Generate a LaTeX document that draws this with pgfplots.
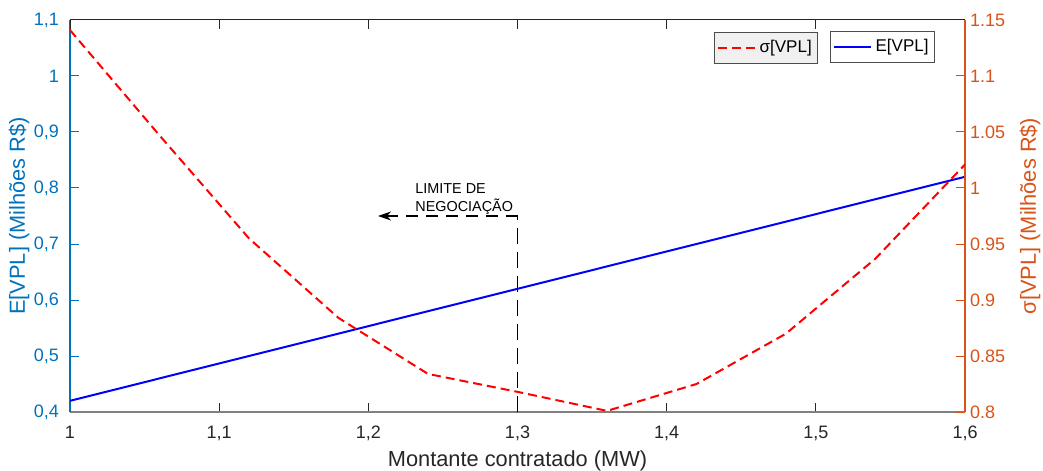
\documentclass[border=0pt]{standalone}
\usepackage{fontspec}
\setmainfont{Liberation Sans}
\usepackage{pgfplots}
\pgfplotsset{compat=1.18}
\usetikzlibrary{arrows.meta}
\definecolor{lblue}{HTML}{0072BD}
\definecolor{rorange}{HTML}{D95319}
\definecolor{axdark}{HTML}{262626}
\definecolor{leggray}{HTML}{F0F0F0}
\begin{document}
\begin{tikzpicture}
\pgfplotsset{
  common/.style={
    scale only axis, width=447.5pt, height=196pt,
    xmin=1, xmax=1.6,
    xtick={1,1.1,1.2,1.3,1.4,1.5,1.6},
    tick align=inside, major tick length=4.5pt,
    /pgf/number format/assume math mode=true,
    tick label style={font=\fontsize{9}{10}\selectfont},
    label style={font=\fontsize{10.9}{12}\selectfont},
    legend style={font=\fontsize{8.5}{10}\selectfont, draw=black!70, line width=0.5pt,
      inner xsep=1pt, inner ysep=2pt},
    legend image code/.code={\draw[##1] (0pt,0pt) -- (18.5pt,0pt);},
    legend cell align=left,
  }
}
\begin{axis}[common, name=ax,
  ymin=0.4, ymax=1.1,
  ytick={0.4,0.5,0.6,0.7,0.8,0.9,1.0,1.1},
  axis x line*=bottom, axis y line*=left,
  x axis line style={draw=gray, line width=0.6pt, -},
  y axis line style={draw=lblue, line width=0.6pt, -},
  x tick style={draw=axdark, line width=0.5pt},
  y tick style={draw=lblue, line width=0.5pt},
  xticklabel style={text=axdark, yshift=-3.5pt, /pgf/number format/use comma},
  yticklabel style={text=lblue, xshift=-2pt, /pgf/number format/use comma},
  xlabel={Montante contratado (MW)},
  ylabel={E[VPL] (Milhões R\$)},
  xlabel style={text=axdark, at={(axis description cs:0.5,-0.124)}, anchor=center},
  ylabel style={text=lblue, at={(axis description cs:-0.057,0.5)}, anchor=center},
  legend style={at={(0.9665,0.972)}, anchor=north east, fill=white},
]
\addplot[black, line width=0.9pt, dash pattern=on 8pt off 4pt, forget plot] coordinates {(1.3,0.4) (1.3,0.75)};
\addplot[black, line width=0.7pt, dash pattern=on 6pt off 4pt,
  -{Stealth[length=6.5pt,width=4.5pt,inset=2pt]}, forget plot] coordinates {(1.3,0.75) (1.2065,0.75)};
\node[anchor=north west, inner sep=0pt, align=left, font=\fontsize{7.2}{9}\selectfont]
  at (axis cs:1.2313,0.809) {LIMITE DE\\NEGOCIAÇÃO};
\addplot[blue, line width=1pt] coordinates {(1.0,0.42) (1.6,0.82)};
\addlegendentry{E[VPL]}
\end{axis}
\begin{axis}[common,
  ymin=0.8, ymax=1.15,
  ytick={0.8,0.85,0.9,0.95,1.0,1.05,1.1,1.15},
  axis x line*=top, axis y line*=right,
  xticklabels={},
  x axis line style={draw=axdark, line width=0.5pt, -},
  y axis line style={draw=rorange, line width=0.6pt, -},
  x tick style={draw=axdark, line width=0.5pt},
  y tick style={draw=rorange, line width=0.5pt},
  yticklabel style={text=rorange, xshift=-1pt},
  ylabel={σ[VPL] (Milhões R\$)},
  ylabel style={text=rorange, at={(axis description cs:1.0726,0.5)}, anchor=center, rotate=0},
  legend style={at={(0.836,0.970)}, anchor=north east, fill=leggray},
]
\addplot[red, line width=1pt, dash pattern=on 4.5pt off 2.5pt] coordinates {
(1.00,1.141) (1.06,1.047) (1.12,0.955) (1.18,0.884) (1.24,0.834) (1.30,0.818)
(1.36,0.801) (1.42,0.825) (1.48,0.870) (1.54,0.937) (1.60,1.021)};
\addlegendentry{σ[VPL]}
\end{axis}
\pgfresetboundingbox
\path ([shift={(-35pt,-29pt)}]ax.south west) rectangle ([shift={(39pt,10pt)}]ax.north east);
\end{tikzpicture}
\end{document}
